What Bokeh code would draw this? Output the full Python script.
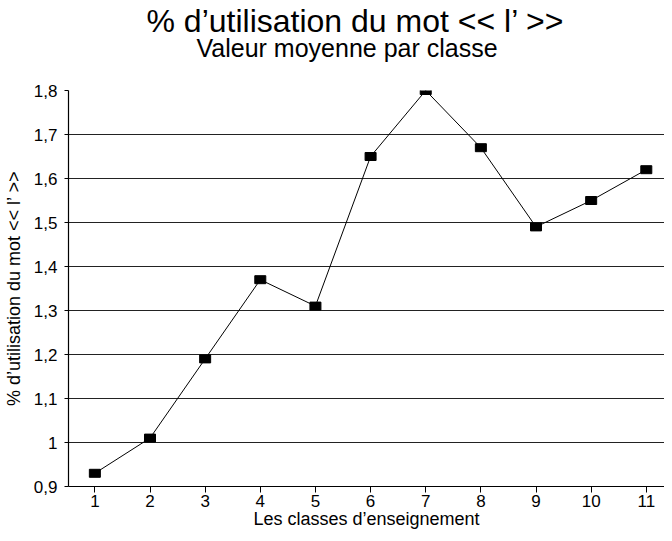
from bokeh.plotting import figure
from bokeh.models import Title, FixedTicker, Range1d, ColumnDataSource
from bokeh.embed import file_html
from bokeh.resources import INLINE

# ---- data ----
classes = [1, 2, 3, 4, 5, 6, 7, 8, 9, 10, 11]
valeurs = [0.93, 1.01, 1.19, 1.37, 1.31, 1.65, 1.80, 1.67, 1.49, 1.55, 1.62]
y_ticks = [0.9, 1.0, 1.1, 1.2, 1.3, 1.4, 1.5, 1.6, 1.7, 1.8]
y_tick_labels = ["0,9", "1", "1,1", "1,2", "1,3", "1,4", "1,5", "1,6", "1,7", "1,8"]
x_ticks = classes
title_text = "% d’utilisation du mot << l’ >>"
subtitle_text = "Valeur moyenne par classe"
x_label = "Les classes d’enseignement"
y_label = "% d’utilisation du mot << l’ >>"

FONT = "Liberation Sans"

src = ColumnDataSource(dict(x=classes, y=valeurs))

p = figure(width=664, height=532, output_backend="svg", toolbar_location=None,
           x_range=Range1d(0.522, 11.33), y_range=Range1d(0.9, 1.8),
           min_border_left=63, min_border_right=0, min_border_top=86,
           min_border_bottom=46, outline_line_color=None,
           background_fill_color="white", border_fill_color="white")

# main title (outermost panel)
p.title = Title(text=title_text, text_font=FONT, text_font_size="32px",
                text_font_style="normal", text_color="black", align="left",
                offset=78, standoff=0)
# panels added first sit closest to the plot area: blank spacer, then subtitle
p.add_layout(Title(text=" ", text_font=FONT, text_font_size="10px",
                   standoff=22), "above")
p.add_layout(Title(text=subtitle_text, text_font=FONT, text_font_size="25px",
                   text_font_style="normal", text_color="black", align="left",
                   offset=128, standoff=-13), "above")

# axes
p.xaxis.ticker = FixedTicker(ticks=x_ticks)
p.yaxis.ticker = FixedTicker(ticks=y_ticks)
p.yaxis.major_label_overrides = {t: l for t, l in zip(y_ticks, y_tick_labels)}
for ax in (p.xaxis[0], p.yaxis[0]):
    ax.axis_line_color = "black"
    ax.axis_line_width = 1.2
    ax.major_tick_line_color = "black"
    ax.major_tick_in = 0
    ax.minor_tick_line_color = None
    ax.major_label_text_font = FONT
    ax.major_label_text_font_size = "17px"
    ax.major_label_text_color = "black"
    ax.axis_label_text_font = FONT
    ax.axis_label_text_font_style = "normal"
    ax.axis_label_text_color = "black"
p.xaxis.major_tick_out = 6
p.xaxis.major_label_standoff = 2
p.yaxis.major_tick_out = 4
p.yaxis.major_label_standoff = 7
p.xaxis.axis_label = x_label
p.yaxis.axis_label = y_label
p.xaxis.axis_label_text_font_size = "18px"
p.yaxis.axis_label_text_font_size = "18px"
p.xaxis.axis_label_standoff = -1
p.yaxis.axis_label_standoff = 7

p.xgrid.grid_line_color = None
p.ygrid.ticker = FixedTicker(ticks=y_ticks)
p.ygrid.grid_line_color = "#222222"
p.ygrid.grid_line_width = 1.2

p.line("x", "y", source=src, line_color="black", line_width=1)
p.rect("x", "y", source=src, width=11, height=8, width_units="screen",
       height_units="screen", fill_color="black", line_color="black")

open("out.html", "w").write(file_html(p, INLINE))
